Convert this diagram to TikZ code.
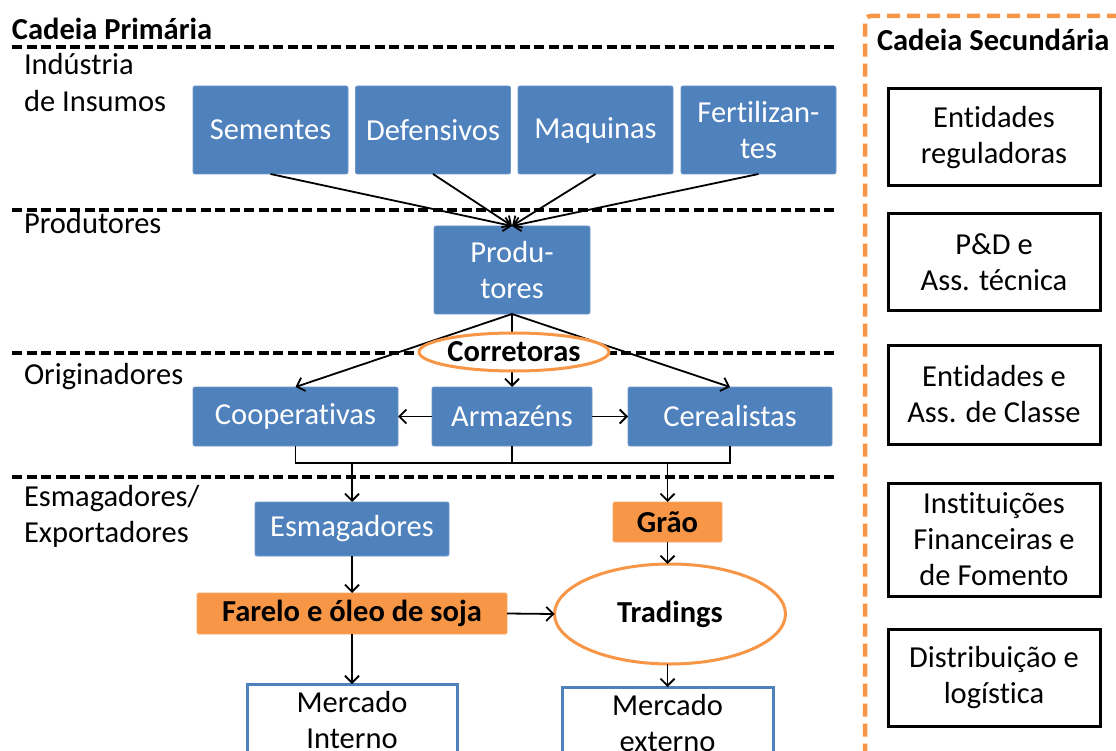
\documentclass[tikz,border=0pt]{standalone}
\usepackage{fontspec}
\setmainfont{Carlito}[Ligatures=NoCommon]
\usetikzlibrary{arrows.meta,shapes.geometric}
\definecolor{boxblue}{HTML}{4F81BD}
\definecolor{edgeblue}{HTML}{6F96C9}
\definecolor{boxorange}{HTML}{F79646}
\newcommand{\fsz}{\fontsize{30.5}{36}\selectfont}
\begin{document}
\begin{tikzpicture}[x=1pt,y=-1pt,
  every node/.style={font=\fsz, inner sep=0pt, outer sep=0pt},
  bluebox/.style={fill=boxblue, draw=edgeblue, line width=0.8pt, rounded corners=2pt, text=white, align=center},
  orangebox/.style={fill=boxorange, draw=boxorange!85!white, line width=0.8pt, rounded corners=1.5pt, text=black, align=center, font=\fsz\bfseries},
  marketbox/.style={fill=white, draw=boxblue, line width=3pt, align=center},
  sidebox/.style={fill=white, draw=black, line width=3pt, minimum width=212pt, align=center},
  orangeell/.style={ellipse, fill=white, draw=boxorange, line width=3pt, font=\fsz\bfseries},
  lbl/.style={anchor=base west},
  sep/.style={line width=3.5pt, dash pattern=on 10pt off 4.5pt},
  arr/.style={-{Straight Barb[length=7pt,width=14pt]}, line width=1.8pt},
  ln/.style={line width=1.8pt}
]
\useasboundingbox (0,0) rectangle (1116,751);
\clip (0,0) rectangle (1116,751);

% separators
\draw[sep] (12,47) -- (836,47);
\draw[sep] (12,210) -- (836,210);
\draw[sep] (12,353) -- (836,353);
\draw[sep] (12,477) -- (836,477);

% left labels
\node[lbl, font=\fsz\bfseries] (tprim) at (12,40) {Cadeia Primária};
\node[lbl] (l1a) at (24,75) {Indústria};
\node[lbl] (l1b) at (24,112) {de Insumos};
\node[lbl] (l2) at (24,234) {Produtores};
\node[lbl] (l3) at (24,384) {Originadores};
\node[lbl] (l4a) at (24,506) {Esmagadores/};
\node[lbl] (l4b) at (24,542) {Exportadores};

% row 1
\node[bluebox, minimum width=155pt, minimum height=88pt] (sem) at (270.5,130) {Sementes};
\node[bluebox, minimum width=155pt, minimum height=88pt] (def) at (433,130) {Defensivos};
\node[bluebox, minimum width=155pt, minimum height=88pt] (maq) at (595.5,130) {Maquinas};
\node[bluebox, minimum width=155pt, minimum height=88pt] (fer) at (758.5,130) {Fertilizan-\\tes};

% produtores
\node[bluebox, minimum width=156pt, minimum height=88pt] (prod) at (512,270) {Produ-\\tores};

\foreach \s in {sem,def,maq,fer} \draw[arr] (\s.south) -- (prod.north);

% row 3
\node[bluebox, minimum width=205pt, minimum height=59pt] (coop) at (295.5,416.5) {Cooperativas};
\node[bluebox, minimum width=160pt, minimum height=59pt] (arm) at (512,416.5) {Armazéns};
\node[bluebox, minimum width=204pt, minimum height=59pt] (cer) at (730,416.5) {Cerealistas};

\draw[arr] (prod.south) -- (coop.north);
\draw[arr] (prod.south) -- (arm.north);
\draw[arr] (prod.south) -- (cer.north);
\node[orangeell, minimum width=190pt, minimum height=38pt] (corr) at (514,352) {Corretoras};

\draw[arr] (arm.west) -- (coop.east);
\draw[arr] (arm.east) -- (cer.west);

% bracket
\coordinate (bk) at (0,463);
\draw[ln] (coop.south) -- (coop.south |- bk) -- (cer.south |- bk) -- (cer.south);
\draw[ln] (arm.south) -- (arm.south |- bk);

% row 4
\node[bluebox, minimum width=194pt, minimum height=54pt] (esm) at (352,529) {Esmagadores};
\node[orangebox, minimum width=109pt, minimum height=40pt] (grao) at (667.5,522) {Grão};
\draw[arr] (esm.north |- bk) -- (esm.north);
\draw[arr] (grao.north |- bk) -- (grao.north);

\node[orangebox, minimum width=310pt, minimum height=41pt] (far) at (352,613.5) {Farelo e óleo de soja};
\node[orangeell, minimum width=231pt, minimum height=100pt] (trad) at (670,614) {Tradings};

\draw[arr] (esm.south) -- (far.north);
\draw[arr] (grao.south) -- (grao.south |- trad.north);
\draw[arr] (far.east) -- (trad.west);

\node[marketbox, minimum width=210pt, minimum height=72pt] (mi) at (352,720) {Mercado\\Interno};
\node[marketbox, minimum width=211pt, minimum height=72pt] (me) at (667.5,723) {Mercado\\externo};
\draw[arr] (far.south) -- (mi.north);
\draw[arr] (trad.south -| me.north) -- (me.north);

% secondary chain
\draw[draw=boxorange, line width=4.5pt, dash pattern=on 13pt off 7pt, rounded corners=6pt] (1140,16) -- (865,16) -- (865,780);
\node[lbl, font=\fsz\bfseries] (tsec) at (877,51) {Cadeia Secundária};
\node[sidebox, minimum height=97pt] (s1) at (994,137.5) {Entidades\\reguladoras};
\node[sidebox, minimum height=97pt] (s2) at (994,262) {P\&D e\\Ass. técnica};
\node[sidebox, minimum height=99pt] (s3) at (994,394.5) {Entidades e\\Ass. de Classe};
\node[sidebox, minimum height=113pt] (s4) at (994,539.5) {Instituições\\Financeiras e\\de Fomento};
\node[sidebox, minimum height=97pt] (s5) at (994,677.5) {Distribuição e\\logística};
\end{tikzpicture}
\end{document}
